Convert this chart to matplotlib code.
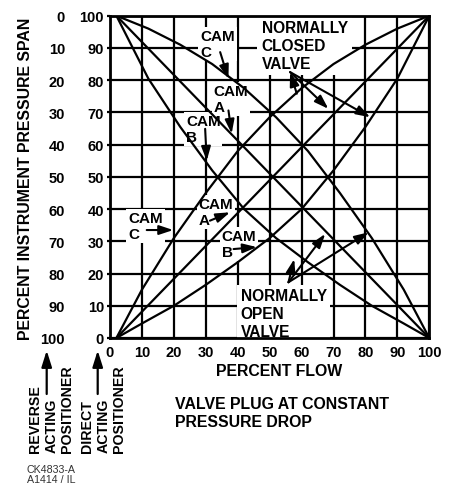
import matplotlib
matplotlib.use('Agg')
import matplotlib.pyplot as plt

plt.rcParams['font.family'] = ['Liberation Sans', 'DejaVu Sans']
plt.rcParams['font.weight'] = 'bold'

# ---------------- data ----------------
flow_ticks = [0, 10, 20, 30, 40, 50, 60, 70, 80, 90, 100]
direct_ticks = [0, 10, 20, 30, 40, 50, 60, 70, 80, 90, 100]
reverse_ticks = [0, 10, 20, 30, 40, 50, 60, 70, 80, 90, 100]

# Normally closed valve (flow rises with instrument pressure)
nc_flow = [2, 10, 20, 30, 40, 50, 60, 70, 80, 90, 100]
nc_cam_c = [0, 15, 31, 45, 58, 68.5, 77.5, 85, 91, 96, 100]
nc_cam_b = [0, 4.5, 10, 16.5, 23.5, 31, 40, 52, 65.5, 80.5, 100]
nc_lin_flow = [2, 100]
nc_cam_a = [0, 100]

# Normally open valve (flow falls with instrument pressure)
no_flow = [2, 12, 22, 32, 42, 52, 62, 72, 82, 92, 100]
no_cam_c = [100, 96, 91, 85, 77.5, 68.5, 58, 45, 31, 15, 0]
no_cam_b = [100, 80.5, 65.5, 52, 40, 31, 23.5, 16.5, 10, 4.5, 0]
no_lin_flow = [2, 100]
no_cam_a = [100, 0]

# ---------------- figure ----------------
W, H = 452, 485
fig = plt.figure(figsize=(W / 100, H / 100), dpi=100)
ax = fig.add_axes([110 / W, 1 - 339 / H, 319.3 / W, 322.3 / H])
ax.set_xlim(0, 100)
ax.set_ylim(0, 100)
ax.set_xticks(flow_ticks)
ax.set_yticks(direct_ticks)
ax.set_axisbelow(True)
ax.grid(True, color='black', lw=1.6)
ax.tick_params(axis='x', length=0, pad=5, labelsize=10.5)
ax.tick_params(axis='y', length=2.4, width=1.6, pad=2, labelsize=10.5)
for t in ax.get_xticklabels() + ax.get_yticklabels():
    t.set_fontweight('bold')
for sp in ax.spines.values():
    sp.set_linewidth(2.0)

sec = ax.secondary_yaxis('left', functions=(lambda y: 100 - y, lambda y: 100 - y))
sec.set_yticks(reverse_ticks)
sec.tick_params(length=0, pad=32.4, labelsize=10.5)
for t in sec.get_yticklabels():
    t.set_fontweight('bold')
for sp in sec.spines.values():
    sp.set_visible(False)

curves = [(nc_flow, nc_cam_c), (nc_flow, nc_cam_b), (nc_lin_flow, nc_cam_a),
          (no_flow, no_cam_c), (no_flow, no_cam_b), (no_lin_flow, no_cam_a)]
for f, p in curves:
    ax.plot(f, p, color='black', lw=1.6, zorder=3, solid_joinstyle='round')


def lab(x, y, s, pad=0.12, size=11, ls=1.2):
    ax.text(x, y, s, ha='left', va='top', fontsize=size, zorder=2, linespacing=ls,
            fontweight='bold',
            bbox=dict(boxstyle=f'square,pad={pad}', fc='white', ec='none'))


lab(28.2, 95.9, 'CAM\nC')
lab(32.4, 78.8, 'CAM\nA')
lab(23.8, 69.5, 'CAM\nB')
lab(5.7, 39.5, 'CAM\nC')
lab(27.7, 43.7, 'CAM\nA')
lab(35.0, 33.8, 'CAM\nB')
lab(47.5, 98.8, 'NORMALLY\nCLOSED\nVALVE', pad=0.3, size=11.2, ls=1.25)
lab(40.9, 15.5, 'NORMALLY\nOPEN\nVALVE', pad=0.2, size=11.2, ls=1.25)

ap = dict(arrowstyle='-|>,head_length=0.6,head_width=0.2', color='black', lw=1.5,
          shrinkA=0, shrinkB=0, mutation_scale=14)


def arr(start, tip):
    ax.annotate('', xy=tip, xytext=start, arrowprops=ap, zorder=4)


arr((34.5, 88.7), (37.1, 80.4))
arr((37.1, 70.6), (38.1, 63.4))
arr((29.8, 64.9), (30.3, 55.0))
arr((11.5, 33.5), (19.8, 33.5))
arr((31.3, 36.4), (37.6, 39.0))
arr((38.7, 27.6), (46.0, 28.2))
# normally closed valve pointers
arr((56.4, 82.5), (68.4, 71.1))
arr((56.4, 82.5), (81.5, 68.5))
arr((58.5, 75.8), (56.4, 82.5))
# normally open valve pointers
arr((55.9, 17.3), (67.4, 32.3))
arr((55.9, 17.3), (81.0, 32.8))
arr((55.9, 17.3), (57.7, 24.5))

# ---------------- outside texts ----------------
fig.text(25.7 / W, 1 - 179 / H, 'PERCENT INSTRUMENT PRESSURE SPAN', rotation=90,
         ha='center', va='center', fontsize=11.4, fontweight='bold')
fig.text(279 / W, 1 - 375.5 / H, 'PERCENT FLOW', ha='center', va='baseline', fontsize=11.4,
         fontweight='bold')
fig.text(175 / W, 1 - 397 / H, 'VALVE PLUG AT CONSTANT\nPRESSURE DROP', ha='left', va='top',
         fontsize=11.4, linespacing=1.25, fontweight='bold')
fig.text(28 / W, 1 - 453 / H, 'REVERSE\nACTING\nPOSITIONER', rotation=90, ha='left', va='bottom',
         multialignment='left', fontsize=10.2, fontweight='bold')
fig.text(80 / W, 1 - 453 / H, 'DIRECT\nACTING\nPOSITIONER', rotation=90, ha='left', va='bottom',
         multialignment='left', fontsize=10.2, fontweight='bold')
fig.text(27 / W, 1 - 465 / H, 'CK4833-A\nA1414 / IL', ha='left', va='top', fontsize=7.7,
         fontweight='normal', color='#333333', linespacing=1.0)

fap = dict(arrowstyle='-|>,head_length=0.7,head_width=0.22', color='black', lw=1.6,
           shrinkA=0, shrinkB=0, mutation_scale=14)
for xpix in (46.7, 97.7):
    ax.annotate('', xy=(xpix / W, 1 - 351.5 / H), xytext=(xpix / W, 1 - 395 / H),
                xycoords='figure fraction', textcoords='figure fraction', arrowprops=fap)

fig.savefig('out.png', dpi=100)
